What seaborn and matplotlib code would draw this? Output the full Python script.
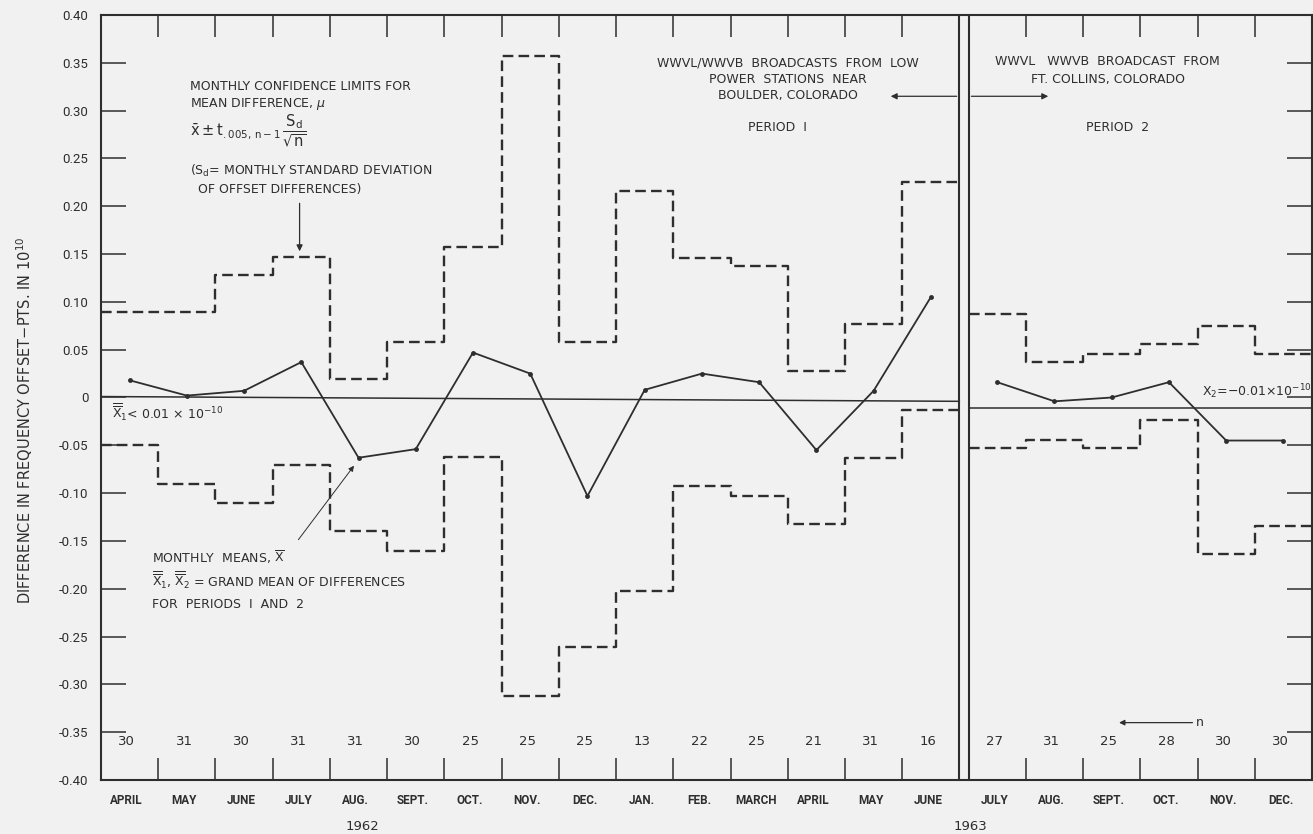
import matplotlib
matplotlib.use("Agg")
import matplotlib.pyplot as plt
import seaborn as sns
import numpy as np
import pandas as pd

# ---------------- data ----------------
months_p1 = ["APRIL", "MAY", "JUNE", "JULY", "AUG.", "SEPT.", "OCT.", "NOV.", "DEC.",
             "JAN.", "FEB.", "MARCH", "APRIL", "MAY", "JUNE"]
months_p2 = ["JULY", "AUG.", "SEPT.", "OCT.", "NOV.", "DEC."]
n_p1 = [30, 31, 30, 31, 31, 30, 25, 25, 25, 13, 22, 25, 21, 31, 16]
n_p2 = [27, 31, 25, 28, 30, 30]
mean_p1 = [0.018, 0.002, 0.007, 0.037, -0.063, -0.054, 0.047, 0.025, -0.103,
           0.008, 0.025, 0.016, -0.055, 0.007, 0.105]
mean_p2 = [0.016, -0.004, 0.000, 0.016, -0.045, -0.045]
upper_p1 = [0.089, 0.089, 0.128, 0.147, 0.019, 0.058, 0.157, 0.357, 0.058,
            0.216, 0.146, 0.137, 0.028, 0.077, 0.225]
lower_p1 = [-0.050, -0.090, -0.110, -0.071, -0.140, -0.160, -0.062, -0.312, -0.261,
            -0.202, -0.093, -0.103, -0.132, -0.063, -0.013]
upper_p2 = [0.087, 0.037, 0.046, 0.056, 0.075, 0.046]
lower_p2 = [-0.053, -0.044, -0.053, -0.024, -0.164, -0.134]
grand_p1 = [0.001, -0.004]   # start / end of the period-1 grand-mean line
grand_p2 = [-0.011, -0.011]
ytick_vals = [0.40, 0.35, 0.30, 0.25, 0.20, 0.15, 0.10, 0.05, 0.0,
              -0.05, -0.10, -0.15, -0.20, -0.25, -0.30, -0.35, -0.40]
ytick_labels = ["0.40", "0.35", "0.30", "0.25", "0.20", "0.15", "0.10", "0.05", "0",
                "-0.05", "-0.10", "-0.15", "-0.20", "-0.25", "-0.30", "-0.35", "-0.40"]

# ---------------- style ----------------
sns.set_theme(style="white")
BG = "#f1f1f1"
INK = "#2e2e2e"
plt.rcParams["font.family"] = ["DejaVu Sans"]
plt.rcParams["mathtext.fontset"] = "dejavusans"
NARROW = ["Roboto", "DejaVu Sans"]

fig = plt.figure(figsize=(13.13, 8.34), dpi=100, facecolor=BG)
ax = fig.add_axes([101/1313, 1 - 780/834, 1211/1313, 765/834])
ax.set_facecolor(BG)

GAP = 0.16
P2 = 15 + GAP
x0_p1 = np.arange(len(months_p1))
x0_p2 = P2 + np.arange(len(months_p2))
xc_p1 = x0_p1 + 0.5
xc_p2 = x0_p2 + 0.5


def steps(xstart, vals):
    xs = np.append(xstart, xstart[-1] + 1)
    ys = list(vals) + [vals[-1]]
    df = pd.DataFrame({"x": xs, "y": ys})
    sns.lineplot(data=df, x="x", y="y", ax=ax, color=INK, lw=1.7,
                 drawstyle="steps-post", sort=False, estimator=None,
                 linestyle=(0, (4.5, 2.2)))


steps(x0_p1, upper_p1)
steps(x0_p1, lower_p1)
steps(x0_p2, upper_p2)
steps(x0_p2, lower_p2)

for xc, m in ((xc_p1, mean_p1), (xc_p2, mean_p2)):
    df = pd.DataFrame({"x": xc, "y": m})
    sns.lineplot(data=df, x="x", y="y", ax=ax, color=INK, lw=1.3,
                 marker="o", markersize=3.5, markeredgewidth=0, sort=False,
                 estimator=None)

# grand mean lines
sns.lineplot(x=[0, 15], y=grand_p1, ax=ax, color=INK, lw=1.1, estimator=None)
sns.lineplot(x=[P2, P2 + 6], y=grand_p2, ax=ax, color=INK, lw=1.1, estimator=None)

# double separator
ax.axvline(15, color=INK, lw=1.5)
ax.axvline(P2, color=INK, lw=1.5)

ax.set_xlim(0, P2 + 6)
ax.set_ylim(-0.40, 0.40)
ax.set_xlabel("")
ax.set_ylabel("")

# ticks
xb = list(range(1, 15)) + list(P2 + np.arange(1, 6))
ax.set_xticks(xb)
ax.set_xticklabels([])
ax.tick_params(axis="x", which="major", direction="in", length=16, width=1.1,
               color=INK, top=True, bottom=True)
ax.set_yticks(ytick_vals)
ax.set_yticklabels(ytick_labels)
ax.tick_params(axis="y", which="major", direction="in", length=18, width=1.1,
               color=INK, left=True, right=True, pad=9, labelsize=9.5,
               labelcolor=INK)
for lab in ax.get_yticklabels():
    lab.set_family(NARROW)
for s in ax.spines.values():
    s.set_color(INK)
    s.set_linewidth(1.5)

# month labels and n values
for xc, ms, ns in ((xc_p1, months_p1, n_p1), (xc_p2, months_p2, n_p2)):
    for x, m, n in zip(xc, ms, ns):
        ax.text(x - 0.05, -0.421, m, ha="center", va="center", fontsize=8.5,
                color=INK, fontweight="bold", family=NARROW, clip_on=False)
        ax.text(x - 0.05, -0.360, str(n), ha="center", va="center", fontsize=9.5,
                color=INK)
ax.text(4.56, -0.449, "1962", ha="center", va="center", fontsize=9.5, color=INK,
        clip_on=False)
ax.text(15.2, -0.449, "1963", ha="center", va="center", fontsize=9.5, color=INK,
        clip_on=False)

tk = dict(fontsize=9, color=INK, va="center")
XX = r"\overline{\overline{\mathrm{X}}}"
# confidence limits note
ax.text(1.55, 0.325, "MONTHLY CONFIDENCE LIMITS FOR", ha="left", **tk)
ax.text(1.55, 0.307, r"MEAN DIFFERENCE, $\mu$", ha="left", **tk)
ax.text(1.55, 0.279, r"$\bar{\mathrm{x}} \pm \mathrm{t}_{.005,\,\mathrm{n-1}}\,\dfrac{\mathrm{S_d}}{\sqrt{\mathrm{n}}}$",
        ha="left", fontsize=10.5, color=INK, va="center")
ax.text(1.55, 0.237, r"(S$_\mathrm{d}$= MONTHLY STANDARD DEVIATION", ha="left", **tk)
ax.text(1.69, 0.217, "OF OFFSET DIFFERENCES)", ha="left", **tk)
ax.annotate("", xy=(3.47, 0.150), xytext=(3.47, 0.206),
            arrowprops=dict(arrowstyle="-|>", color=INK, lw=0.9, mutation_scale=9))

ax.text(0.19, -0.016, r"$" + XX + r"_\mathrm{1}$< 0.01 × 10$^{-10}$",
        ha="left", **tk)

# monthly means note
ax.text(0.89, -0.167, r"MONTHLY  MEANS, $\overline{\mathrm{X}}$", ha="left", **tk)
ax.text(0.89, -0.191, r"$" + XX + r"_\mathrm{1}$, $" + XX + r"_\mathrm{2}$ = GRAND MEAN OF DIFFERENCES",
        ha="left", **tk)
ax.text(0.89, -0.216, "FOR  PERIODS  I  AND  2", ha="left", **tk)
ax.annotate("", xy=(4.45, -0.069), xytext=(3.42, -0.151),
            arrowprops=dict(arrowstyle="-|>", color=INK, lw=0.7, mutation_scale=8))

# period 1 note
ax.text(12.0, 0.350, "WWVL/WWVB  BROADCASTS  FROM  LOW", ha="center", **tk)
ax.text(12.0, 0.333, "POWER  STATIONS  NEAR", ha="center", **tk)
ax.text(12.0, 0.316, "BOULDER, COLORADO", ha="center", **tk)
ax.text(11.82, 0.282, "PERIOD  I", ha="center", **tk)
ax.annotate("", xy=(13.75, 0.315), xytext=(15.0, 0.315),
            arrowprops=dict(arrowstyle="-|>", color=INK, lw=0.9, mutation_scale=9))

# period 2 note
ax.text(17.59, 0.351, "WWVL   WWVB  BROADCAST  FROM", ha="center", **tk)
ax.text(17.59, 0.333, "FT. COLLINS, COLORADO", ha="center", **tk)
ax.text(17.76, 0.282, "PERIOD  2", ha="center", **tk)
ax.annotate("", xy=(16.6, 0.315), xytext=(P2, 0.315),
            arrowprops=dict(arrowstyle="-|>", color=INK, lw=0.9, mutation_scale=9))

ax.text(19.24, 0.006, r"X$_2$=−0.01×10$^{-10}$", ha="left", **tk)

# n arrow
ax.annotate("", xy=(17.74, -0.340), xytext=(19.12, -0.340),
            arrowprops=dict(arrowstyle="-|>", color=INK, lw=0.9, mutation_scale=8))
ax.text(19.13, -0.340, "n", ha="left", **tk)

fig.text(25/1313, 1 - 420/834, r"DIFFERENCE IN FREQUENCY OFFSET$-$PTS. IN 10$^{10}$",
         rotation=90, ha="center", va="center", fontsize=10.5, color=INK)

fig.savefig("out.png", dpi=100, facecolor=BG)
